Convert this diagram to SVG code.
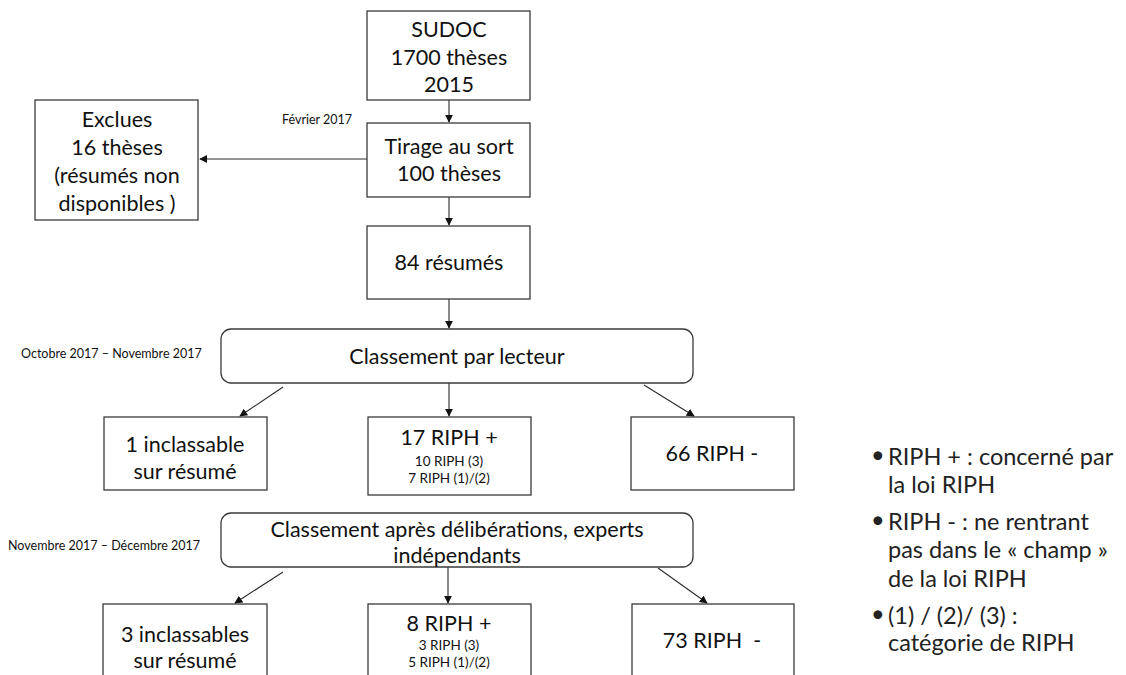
<svg xmlns="http://www.w3.org/2000/svg" width="1126" height="675" viewBox="0 0 1126 675">
<style>
.box{fill:#fff;stroke:#3a3a3a;stroke-width:1.3}
.t{font-family:Lato,"Liberation Sans",sans-serif;font-size:21.5px;fill:#111;text-anchor:middle}
.s{font-family:Lato,"Liberation Sans",sans-serif;font-size:13.5px;fill:#111;text-anchor:middle}
.d{font-family:Lato,"Liberation Sans",sans-serif;font-size:12.5px;fill:#111}
.lg{font-family:Lato,"Liberation Sans",sans-serif;font-size:23.5px;fill:#222}
.c{stroke:#2a2a2a;stroke-width:1.1;fill:none;marker-end:url(#ah)}
</style>
<defs>
<marker id="ah" viewBox="0 0 10 10" refX="9" refY="5" markerWidth="8" markerHeight="8" markerUnits="userSpaceOnUse" orient="auto">
<path d="M0,0 L10,5 L0,10 z" fill="#111"/>
</marker>
</defs>
<rect width="1126" height="675" fill="#fff"/>
<g id="connectors">
<line class="c" x1="449" y1="100" x2="449" y2="122"/>
<line class="c" x1="367" y1="159" x2="200" y2="159"/>
<line class="c" x1="449" y1="197" x2="449" y2="225"/>
<line class="c" x1="449" y1="299" x2="449" y2="328"/>
<line class="c" x1="283" y1="387" x2="240" y2="416"/>
<line class="c" x1="449" y1="383" x2="449" y2="416"/>
<line class="c" x1="644" y1="385" x2="694" y2="416"/>
<line class="c" x1="283" y1="572" x2="235" y2="603"/>
<line class="c" x1="448" y1="567" x2="448" y2="603"/>
<line class="c" x1="658" y1="568" x2="707" y2="603"/>
</g>
<g id="sudoc">
<rect class="box" x="367" y="11" width="163" height="89"/>
<text class="t" x="449" y="37" font-size="22">SUDOC</text>
<text class="t" x="449" y="65" font-size="22">1700 thèses</text>
<text class="t" x="449" y="92" font-size="22">2015</text>
</g>
<g id="fevrier">
<text class="d" x="282" y="124">Février 2017</text>
</g>
<g id="tirage">
<rect class="box" x="367" y="123" width="163" height="74"/>
<text class="t" x="449" y="154">Tirage au sort</text>
<text class="t" x="449" y="181">100 thèses</text>
</g>
<g id="exclues">
<rect class="box" x="35" y="100" width="163" height="120"/>
<text class="t" x="117" y="127">Exclues</text>
<text class="t" x="117" y="155">16 thèses</text>
<text class="t" x="117" y="183">(résumés non</text>
<text class="t" x="117" y="211">disponibles )</text>
</g>
<g id="resumes">
<rect class="box" x="367" y="226" width="163" height="73"/>
<text class="t" x="449" y="270">84 résumés</text>
</g>
<g id="oct">
<text class="d" x="21" y="358">Octobre 2017 – Novembre 2017</text>
</g>
<g id="classement1">
<rect class="box" x="221" y="329" width="472" height="54" rx="10"/>
<text class="t" x="457" y="364">Classement par lecteur</text>
</g>
<g id="inclassable1">
<rect class="box" x="104" y="417" width="163" height="73"/>
<text class="t" x="185" y="452">1 inclassable</text>
<text class="t" x="185" y="479">sur résumé</text>
</g>
<g id="riphplus1">
<rect class="box" x="368" y="417" width="163" height="78"/>
<text class="t" x="449" y="445">17 RIPH +</text>
<text class="s" x="449" y="466">10 RIPH (3)</text>
<text class="s" x="449" y="483">7 RIPH (1)/(2)</text>
</g>
<g id="riphmoins1">
<rect class="box" x="631" y="417" width="163" height="73"/>
<text class="t" x="712" y="461">66 RIPH -</text>
</g>
<g id="nov">
<text class="d" x="8" y="550">Novembre 2017 – Décembre 2017</text>
</g>
<g id="classement2">
<rect class="box" x="221" y="513" width="472" height="54" rx="10"/>
<text class="t" x="457" y="537">Classement après délibérations, experts</text>
<text class="t" x="457" y="563">indépendants</text>
</g>
<g id="inclassable2">
<rect class="box" x="103" y="604" width="164" height="80"/>
<text class="t" x="185" y="642">3 inclassables</text>
<text class="t" x="185" y="668">sur résumé</text>
</g>
<g id="riphplus2">
<rect class="box" x="368" y="604" width="163" height="80"/>
<text class="t" x="449" y="631">8 RIPH +</text>
<text class="s" x="449" y="650">3 RIPH (3)</text>
<text class="s" x="449" y="667">5 RIPH (1)/(2)</text>
</g>
<g id="riphmoins2">
<rect class="box" x="632" y="604" width="162" height="80"/>
<text class="t" x="712" y="648" xml:space="preserve">73 RIPH  -</text>
</g>
<g id="legend">
<text class="lg" x="871" y="463" font-size="17">•</text>
<text class="lg" x="888" y="465">RIPH + : concerné par</text>
<text class="lg" x="888" y="493">la loi RIPH</text>
<text class="lg" x="871" y="528" font-size="17">•</text>
<text class="lg" x="888" y="530">RIPH - : ne rentrant</text>
<text class="lg" x="888" y="558">pas dans le « champ »</text>
<text class="lg" x="888" y="587">de la loi RIPH</text>
<text class="lg" x="871" y="622" font-size="17">•</text>
<text class="lg" x="888" y="624">(1) / (2)/ (3) :</text>
<text class="lg" x="888" y="651">catégorie de RIPH</text>
</g>
</svg>
